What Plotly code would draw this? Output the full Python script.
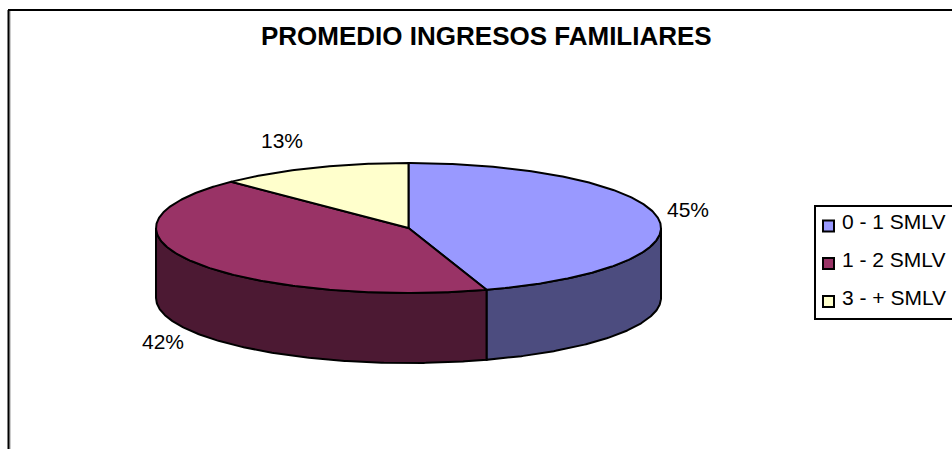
import numpy as np
import plotly.graph_objects as go

CATEGORIES = ["0 - 1 SMLV", "1 - 2 SMLV", "3 - + SMLV"]
VALUES = [45.0, 42.6, 12.4]
PERCENT_LABELS = ["45%", "42%", "13%"]
TITLE = "PROMEDIO INGRESOS FAMILIARES"

TOP_COLORS = ["#9999FF", "#993366", "#FFFFCC"]
SIDE_COLORS = ["#4C4C7F", "#4C1933", "#7F7F66"]

W, H = 952, 449
CX, CY, RX, RY, DEPTH = 408.5, 228, 252.5, 65, 70
LABEL_XY = [(688, 212), (163, 344), (282, 143)]
FONT = "Liberation Sans, Arial, sans-serif"
LABEL_SIZE = 21


def ellipse(a0, a1, dy=0.0):
    t = np.radians(np.linspace(a0, a1, max(3, int(abs(a1 - a0) * 2))))
    return CX + RX * np.sin(t), CY + dy - RY * np.cos(t)


fig = go.Figure()
edges = np.concatenate([[0], np.cumsum(VALUES) / sum(VALUES) * 360])

# side wall: only the front half of the disc (90 to 270 degrees) is visible
for i, name in enumerate(CATEGORIES):
    a0, a1 = max(edges[i], 90), min(edges[i + 1], 270)
    if a1 <= a0:
        continue
    xt, yt = ellipse(a0, a1)
    xb, yb = ellipse(a1, a0, DEPTH)
    fig.add_trace(go.Scatter(
        x=np.r_[xt, xb, xt[0]], y=np.r_[yt, yb, yt[0]], mode="lines", fill="toself",
        fillcolor=SIDE_COLORS[i], line=dict(color="black", width=2),
        name=name, showlegend=False, hoverinfo="skip"))

# top face
for i, name in enumerate(CATEGORIES):
    xa, ya = ellipse(edges[i], edges[i + 1])
    fig.add_trace(go.Scatter(
        x=np.r_[CX, xa, CX], y=np.r_[CY, ya, CY], mode="lines", fill="toself",
        fillcolor=TOP_COLORS[i], line=dict(color="black", width=2),
        name=name, showlegend=False, hoverinfo="text", text=PERCENT_LABELS[i]))

# percent labels
fig.add_trace(go.Scatter(
    x=[p[0] for p in LABEL_XY], y=[p[1] for p in LABEL_XY], mode="text",
    text=PERCENT_LABELS, textposition="middle center",
    textfont=dict(family=FONT, size=LABEL_SIZE, color="black"),
    showlegend=False, hoverinfo="skip"))

# legend, placed as in the reference where its box runs off the page
LEG_X, LEG_TEXT_X = 828.5, 842
LEG_SWATCH_YS, LEG_TEXT_YS = [226, 263.5, 301.5], [224, 262, 299.5]
fig.add_trace(go.Scatter(
    x=[LEG_X] * 3, y=LEG_SWATCH_YS, mode="markers",
    marker=dict(symbol="square", size=11, color=TOP_COLORS, line=dict(color="black", width=2)),
    showlegend=False, hoverinfo="skip"))
fig.add_trace(go.Scatter(
    x=[LEG_TEXT_X] * 3, y=LEG_TEXT_YS, mode="text",
    text=CATEGORIES, textposition="middle right",
    textfont=dict(family=FONT, size=21, color="black"),
    showlegend=False, hoverinfo="skip"))

fig.update_layout(
    width=W, height=H, autosize=False,
    margin=dict(l=0, r=0, t=0, b=0),
    paper_bgcolor="white", plot_bgcolor="white", showlegend=False,
    xaxis=dict(range=[0, W], visible=False, fixedrange=True),
    yaxis=dict(range=[H, 0], visible=False, fixedrange=True),
    shapes=[
        dict(type="line", x0=10, x1=10, y0=11, y1=H + 5, line=dict(color="#999999", width=1), layer="below"),
        dict(type="line", x0=8.5, x1=8.5, y0=10, y1=H + 5, line=dict(color="black", width=2), layer="below"),
        dict(type="line", x0=8, x1=W + 5, y0=10, y1=10, line=dict(color="black", width=2), layer="below"),
        dict(type="rect", x0=815, x1=W + 20, y0=206, y1=319, line=dict(color="black", width=2),
             fillcolor="white", layer="below"),
    ],
    annotations=[dict(
        text="<b>%s</b>" % TITLE, x=486, y=36, xref="x", yref="y", showarrow=False,
        xanchor="center", yanchor="middle",
        font=dict(family=FONT, size=26, color="black"))],
)
fig.write_html("out.html", config=dict(displayModeBar=False),
               post_script="document.body.style.margin='0';document.body.style.overflow='hidden';")
